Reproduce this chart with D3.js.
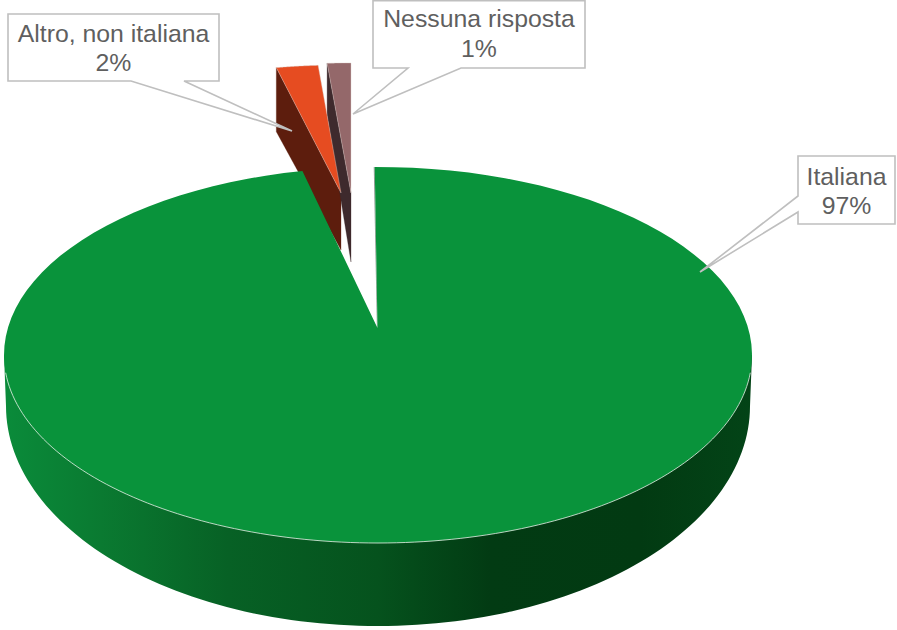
<!DOCTYPE html>
<html><head><meta charset="utf-8">
<script src="https://cdn.jsdelivr.net/npm/d3@7"></script>
<style>html,body{margin:0;padding:0;background:#fff}svg{display:block}</style></head>
<body><svg id="c" width="897" height="630"></svg>
<script>
const categories=["Italiana","Altro, non italiana","Nessuna risposta"];
const values=[96.9,2.1,1.0];
const percentLabels=["97%","2%","1%"];
const topColors=["#09933b","#e64c21","#94686a"];
const wallColors=["#0a8a3a","#5d1d0d","#3e2a2d"];

const W=897,H=630;
const svg=d3.select("#c");
const defs=svg.append("defs");
// projection of the tilted pie
const x=d3.scaleLinear().domain([-1,1]).range([4,752]);
const y=d3.scaleLinear().domain([-1,1]).range([167,543]);
const xB=d3.scaleLinear().domain([-1,1]).range([6,750]);
const yB=d3.scaleLinear().domain([-1,1]).range([186,626]);

const startA=-0.5*Math.PI/180;
const pie=d3.pie().sort(null).value(d=>d).startAngle(startA).endAngle(startA+2*Math.PI);
const arcs=pie(values);

const g=defs.append("linearGradient").attr("id","wall").attr("gradientUnits","userSpaceOnUse")
  .attr("x1",4).attr("x2",752).attr("y1",0).attr("y2",0);
[[0,"#0a8b3a"],[.13,"#0a7a31"],[.3,"#076125"],[.5,"#05521d"],[.65,"#023b13"],[.85,"#023a12"],[1,"#034417"]]
 .forEach(s=>g.append("stop").attr("offset",s[0]).attr("stop-color",s[1]));

const line=d3.line();
const rim=(a0,a1,fx,fy)=>d3.range(0,121).map(i=>{const a=a0+(a1-a0)*i/120;return [fx(Math.sin(a)),fy(-Math.cos(a))];});

// exploded small slices: apex, radii, wall depths, small rotation
const rad=Math.PI/180;
const small=[null,
 {ax:341,ay:193,rx:320,ry:128,dr:64,da:57,rot:0},
 {ax:351,ay:193,rx:380,ry:130,dr:52,da:69,rot:.5*rad}];
function sliceCorner(s,a){return [s.ax+s.rx*Math.sin(a),s.ay-s.ry*Math.cos(a)];}

// small slice walls then tops
[1,2].forEach(i=>{
  const s=small[i],a=arcs[i];
  const c0=sliceCorner(s,a.startAngle+s.rot);
  svg.append("path").attr("fill",wallColors[i]).attr("stroke",wallColors[i]).attr("stroke-width",.3)
    .attr("d",line([c0,[c0[0],c0[1]+s.dr],[s.ax,s.ay+s.da],[s.ax,s.ay]])+"Z");
});
[1,2].forEach(i=>{
  const s=small[i],a=arcs[i];
  const pts=rim(a.startAngle+s.rot,a.endAngle+s.rot,v=>s.ax+s.rx*v,v=>s.ay+s.ry*v);
  svg.append("path").attr("fill",topColors[i]).attr("stroke","#d9c9c4").attr("stroke-width",.4)
    .attr("d",line([[s.ax,s.ay],...pts])+"Z");
});

// green outer wall
const frontB=rim(3*Math.PI/2,Math.PI/2,xB,yB);
svg.append("path").attr("fill","url(#wall)")
  .attr("d",line([[x(-1),y(0)],...frontB,[x(1),y(0)]])+"Z");

// green cut wall sliver
const apex=[377.5,328];
const g0=[x(Math.sin(arcs[0].startAngle)),y(-Math.cos(arcs[0].startAngle))];
svg.append("path").attr("fill","#8d9c92")
  .attr("d",line([[g0[0]-1,g0[1]],[apex[0]-.6,apex[1]],[apex[0],apex[1]],g0])+"Z");

// green top
svg.append("path").attr("fill",topColors[0])
  .attr("d",line([apex,...rim(arcs[0].startAngle,arcs[0].endAngle,x,y)])+"Z");
// highlight between top and wall
svg.append("path").attr("fill","none").attr("stroke","#e8f2ea").attr("stroke-width",.8)
  .attr("d",line(rim(1.47*Math.PI,.53*Math.PI,x,y)));

// callouts
const stroke="#bfbfbf";
const boxes=[
 {i:0,pts:[[798,156],[895,156],[895,224],[798,224],[798,212],[700,272],[798,196]],cx:846.5,b:[185,214]},
 {i:1,pts:[[8,14],[219,14],[219,81],[184,81],[292,131],[131,81],[8,81]],cx:113.5,b:[42,71]},
 {i:2,pts:[[373,0.8],[585,0.8],[585,68],[461,68],[353,114],[408,68],[373,68]],cx:479,b:[27,57]}
];
boxes.forEach(b=>{
  svg.append("path").attr("d",line(b.pts)+"Z").attr("fill","#fff").attr("stroke",stroke).attr("stroke-width",1.6);
  [categories[b.i],percentLabels[b.i]].forEach((t,k)=>{
    svg.append("text").attr("x",b.cx).attr("y",b.b[k]).attr("text-anchor","middle")
      .attr("font-family","Liberation Sans, Arial, sans-serif").attr("font-size",24.8).attr("fill","#5f5f5f").text(t);
  });
});
</script></body></html>
